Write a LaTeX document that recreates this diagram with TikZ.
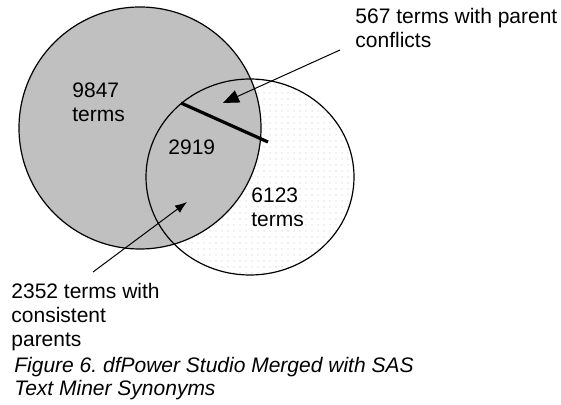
\documentclass[tikz,border=0pt]{standalone}
\usepackage{fontspec}
\setmainfont{Liberation Sans}
\usetikzlibrary{arrows.meta,patterns}

\definecolor{setgrey}{HTML}{C0C0C0}

\begin{document}
\begin{tikzpicture}[x=0.5pt, y=-0.5pt, font=\fontsize{10.5}{12.3}\selectfont,
  txt/.style={inner sep=0, anchor=base west, align=left},
  rim/.style={line width=0.6pt},
  pointer/.style={line width=0.5pt}]
  \useasboundingbox (0,0) rectangle (561,405);
  \coordinate (dfp) at (140,128);
  \coordinate (sas) at (250,177);
  % the two term sets
  \fill[pattern=dots, pattern color=black!9] (sas) ellipse [x radius=104, y radius=98];
  \fill[setgrey] (dfp) circle [radius=121];
  \draw[rim] (dfp) circle [radius=121];
  \draw[rim] (sas) ellipse [x radius=104, y radius=98];
  \coordinate (cutA) at (181,103);
  \coordinate (cutB) at (268,142);
  \draw[line width=1.6pt] (cutA) -- (cutB);
  % labels (anchored on the last line's baseline)
  \node[txt] (dfpcount) at (72,122) {9847\\terms};
  \node[txt] (common) at (168,155) {2919};
  \node[txt] (sascount) at (251,227) {6123\\terms};
  \node[txt] (conflicts) at (355,48) {567 terms with parent\\conflicts};
  \node[txt, font=\fontsize{10.5}{11.9}\selectfont] (consistent) at (11,346) {2352 terms with\\consistent\\parents};
  \node[txt, font=\fontsize{10.5}{11.2}\selectfont\itshape] (caption) at (14,395) {Figure 6.\ dfPower Studio Merged with SAS\\Text Miner Synonyms};
  % pointers
  \coordinate (conflictFrom) at (340,50);
  \coordinate (conflictTo) at (223,103);
  \coordinate (consistentFrom) at (93,272);
  \coordinate (consistentTo) at (187,202);
  \draw[pointer, -{Triangle[length=8pt, width=6.5pt]}] (conflictFrom) -- (conflictTo);
  \draw[pointer, -{Latex[length=6pt, width=4.5pt]}] (consistentFrom) -- (consistentTo);
\end{tikzpicture}
\end{document}
